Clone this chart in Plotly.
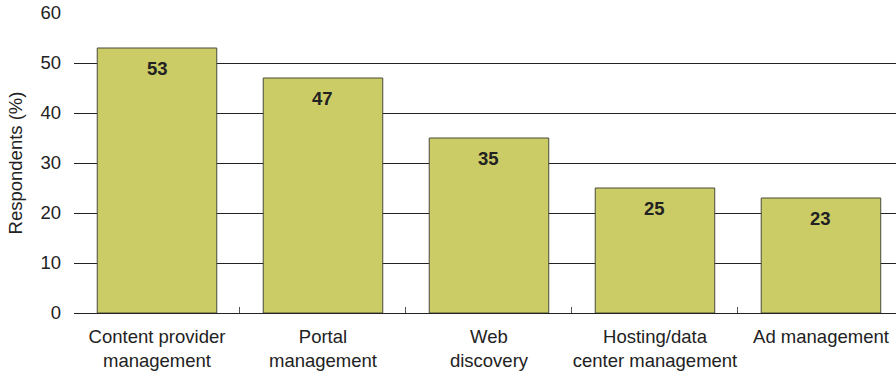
import plotly.graph_objects as go

categories = [
    "Content provider<br>management",
    "Portal<br>management",
    "Web<br>discovery",
    "Hosting/data<br>center management",
    "Ad management",
]
respondents = [53, 47, 35, 25, 23]
y_ticks = [0, 10, 20, 30, 40, 50, 60]

font_family = "Liberation Sans, Arial, sans-serif"
text_color = "#222222"
fs = 18.5

fig = go.Figure(
    go.Bar(
        x=categories,
        y=respondents,
        marker=dict(color="#CBCC66", line=dict(color="#4a4a3a", width=1)),
        width=0.72,
        hoverinfo="skip",
    )
)

for cat, val in zip(categories, respondents):
    fig.add_annotation(
        x=cat, y=val, text=f"<b>{val}</b>", showarrow=False,
        yanchor="middle", yshift=-20,
        font=dict(family=font_family, size=fs, color=text_color),
    )

fig.update_layout(
    width=896, height=374,
    margin=dict(l=74, r=0, t=13, b=61),
    plot_bgcolor="white", paper_bgcolor="white",
    showlegend=False,
    font=dict(family=font_family, size=fs, color=text_color),
    xaxis=dict(
        range=[-0.5, 4.452],
        showline=True, linecolor="#222222", linewidth=1,
        ticks="inside", tickson="boundaries", ticklen=6, tickcolor="#555555",
        showgrid=False, ticklabelstandoff=7, tickangle=0, automargin=False,
        tickfont=dict(size=fs, color=text_color),
    ),
    yaxis=dict(
        range=[0, 60],
        tickvals=y_ticks,
        showgrid=True, gridcolor="#222222", gridwidth=1,
        zeroline=False, showline=False, automargin=False,
        ticks="", ticklabelstandoff=12,
        tickfont=dict(size=fs, color=text_color),
        title=dict(text="Respondents (%)", standoff=12,
                   font=dict(size=fs, color=text_color)),
    ),
)

fig.write_html("out.html")
